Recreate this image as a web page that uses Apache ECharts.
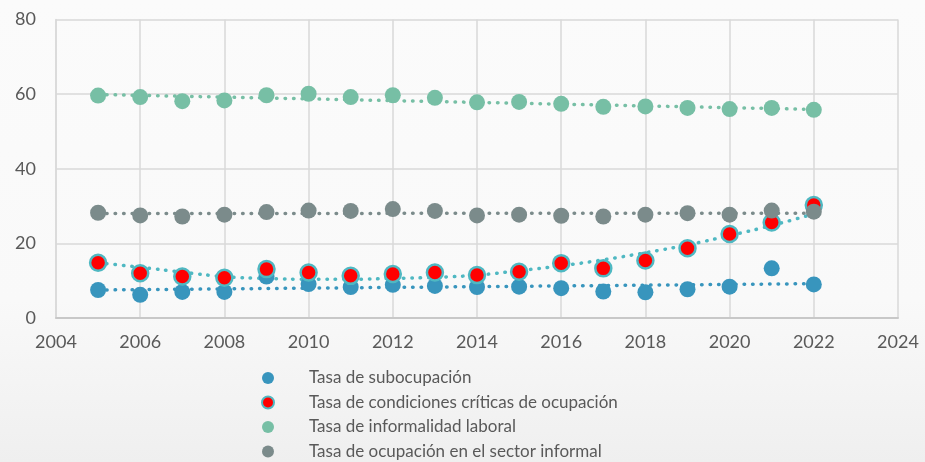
<!DOCTYPE html>
<html>
<head>
<meta charset="utf-8">
<script src="https://cdn.jsdelivr.net/npm/echarts@6/dist/echarts.min.js"></script>
<style>
  html, body { margin: 0; padding: 0; }
  #chart { width: 925px; height: 462px; }
</style>
</head>
<body>
<div id="chart"></div>
<script>
// years and values
var years = [2005, 2006, 2007, 2008, 2009, 2010, 2011, 2012, 2013, 2014, 2015, 2016, 2017, 2018, 2019, 2020, 2021, 2022];

var subocupacion = [7.5, 6.2, 7.0, 7.0, 11.1, 9.1, 8.3, 8.9, 8.6, 8.3, 8.4, 8.0, 7.1, 6.9, 7.7, 8.4, 13.3, 9.0];
var criticas = [14.8, 12.0, 11.1, 10.8, 13.1, 12.2, 11.3, 11.8, 12.2, 11.5, 12.4, 14.7, 13.3, 15.4, 18.7, 22.5, 25.6, 30.3];
var informalidad = [59.6, 59.2, 58.1, 58.3, 59.7, 60.1, 59.2, 59.7, 59.0, 57.8, 57.9, 57.4, 56.6, 56.7, 56.3, 56.0, 56.3, 55.8];
var sectorInformal = [28.2, 27.5, 27.2, 27.7, 28.4, 28.8, 28.7, 29.2, 28.7, 27.5, 27.7, 27.4, 27.2, 27.7, 28.1, 27.7, 28.8, 28.5];

// trend lines
var trendSubocupacion = [[2005, 7.5], [2022, 9.2]];
var trendCriticas = [14.8, 13.6, 12.3, 11.1, 10.6, 10.4, 10.4, 10.6, 10.9, 11.5, 12.7, 14.0, 15.6, 17.5, 19.6, 22.1, 24.8, 27.9];
var trendInformalidad = [[2005, 59.9], [2022, 55.9]];
var trendSector = [[2005, 28.0], [2022, 28.1]];

var names = [
    'Tasa de subocupación',
    'Tasa de condiciones críticas de ocupación',
    'Tasa de informalidad laboral',
    'Tasa de ocupación en el sector informal'
];

var cBlue = '#3895bd';
var cRed = '#ff0000';
var cTeal = '#4fb8c2';
var cGreen = '#77bfa5';
var cGrey = '#7b8b8b';
var textColor = '#595959';
var font = 'Lato';

function pairs(vals) {
    return vals.map(function (v, i) { return [years[i], v]; });
}

var chartDom = document.getElementById('chart');
var myChart = echarts.init(chartDom);

function trend(data, color, smooth) {
    return {
        type: 'line',
        data: data,
        smooth: smooth,
        symbol: 'none',
        silent: true,
        z: 1,
        lineStyle: {
            color: color,
            width: 3.5,
            type: [0.5, 8],
            cap: 'round'
        }
    };
}

function dots(name, vals, itemStyle) {
    itemStyle.opacity = 1;
    return {
        name: name,
        type: 'scatter',
        data: pairs(vals),
        symbolSize: 16,
        z: 3,
        itemStyle: itemStyle
    };
}

var option = {
    backgroundColor: new echarts.graphic.LinearGradient(0, 0, 0, 1, [
        { offset: 0, color: '#fbfbfb' },
        { offset: 0.65, color: '#f9f9f9' },
        { offset: 1, color: '#efefef' }
    ]),
    animation: false,
    textStyle: { fontFamily: font },
    grid: {
        left: 56,
        right: 27,
        top: 19.5,
        bottom: 144,
        show: false
    },
    legend: {
        orient: 'vertical',
        left: 261,
        top: 369.5,
        padding: 0,
        itemWidth: 12,
        itemHeight: 12,
        itemGap: 7.5,
        icon: 'circle',
        data: names,
        textStyle: {
            color: textColor,
            fontSize: 17,
            fontFamily: font,
            padding: [0, 0, 0, 30]
        }
    },
    xAxis: {
        type: 'value',
        min: 2004,
        max: 2024,
        interval: 2,
        axisLine: { show: true, lineStyle: { color: '#c8c8c8', width: 2 } },
        axisTick: { show: false },
        axisLabel: {
            color: textColor,
            fontSize: 18,
            margin: 15,
            formatter: function (v) { return String(v); }
        },
        splitLine: { show: true, lineStyle: { color: '#d9d9d9', width: 1.5 } }
    },
    yAxis: {
        type: 'value',
        min: 0,
        max: 80,
        interval: 20,
        axisLine: { show: true, lineStyle: { color: '#d9d9d9', width: 1.5 } },
        axisTick: { show: false },
        axisLabel: { color: textColor, fontSize: 18, margin: 20 },
        splitLine: { show: true, lineStyle: { color: '#d9d9d9', width: 1.5 } }
    },
    series: [
        trend(trendSubocupacion, cBlue, false),
        trend(pairs(trendCriticas), cTeal, true),
        trend(trendInformalidad, cGreen, false),
        trend(trendSector, cGrey, false),
        dots(names[0], subocupacion, { color: cBlue }),
        dots(names[1], criticas, { color: cRed, borderColor: cTeal, borderWidth: 2.5 }),
        dots(names[2], informalidad, { color: cGreen }),
        dots(names[3], sectorInformal, { color: cGrey })
    ]
};

option && myChart.setOption(option);
</script>
</body>
</html>
